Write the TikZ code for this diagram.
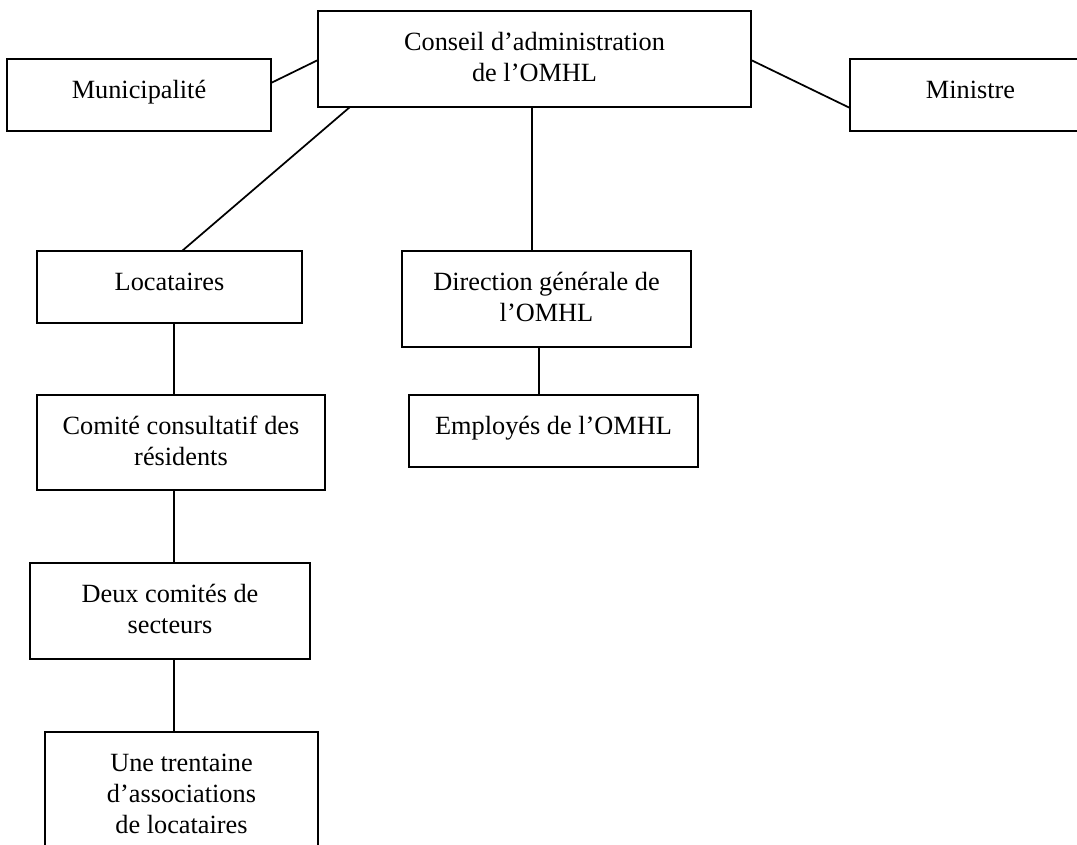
\documentclass[tikz,border=0pt]{standalone}
\usepackage{fontspec}
\setmainfont{Liberation Serif}
\usetikzlibrary{calc}
\newdimen\pxu
\pxu=0.46pt
\newcommand{\boxtext}[3]{\parbox[c][#2\pxu][t]{#1\pxu}{\centering\rule{0pt}{40\pxu}#3}}
\tikzset{
  orgbox/.style={draw, line width=0.8pt, inner sep=0pt, outer sep=0pt, anchor=north west,
    font=\fontsize{12.1}{14.26}\selectfont},
  link/.style={line width=0.8pt}
}
\begin{document}
\begin{tikzpicture}[x=0.46pt, y=-0.46pt]
\useasboundingbox (0,0) rectangle (1077,845);
\node[orgbox] (mun) at (7,59) {\boxtext{264}{72}{Municipalité}};
\node[orgbox] (con) at (318,11) {\boxtext{433}{96}{Conseil d’administration\\de l’OMHL}};
\node[orgbox] (min) at (850,59) {\boxtext{241}{72}{Ministre}};
\node[orgbox] (loc) at (37,251) {\boxtext{265}{72}{Locataires}};
\node[orgbox] (dir) at (402,251) {\boxtext{289}{96}{Direction générale de\\l’OMHL}};
\node[orgbox] (emp) at (409,395) {\boxtext{289}{72}{Employés de l’OMHL}};
\node[orgbox] (com) at (37,395) {\boxtext{288}{95}{Comité consultatif des\\résidents}};
\node[orgbox] (deu) at (30,563) {\boxtext{280}{96}{Deux comités de\\secteurs}};
\node[orgbox] (une) at (45,732) {\boxtext{273}{130}{Une trentaine\\d’associations\\de locataires}};
\coordinate (cx) at (174,0);
\coordinate (dx) at (532,0);
\coordinate (ex) at (539,0);
\draw[link] ([yshift=12\pxu]mun.east) -- ([yshift=-1\pxu]con.west);
\draw[link] ([yshift=-1\pxu]con.east) -- ([yshift=-13\pxu]min.west);
\draw[link] ([xshift=-184.5\pxu]con.south) -- ([xshift=12.5\pxu]loc.north);
\draw[link] (con.south -| dx) -- (dir.north -| dx);
\draw[link] (dir.south -| ex) -- (emp.north -| ex);
\draw[link] (loc.south -| cx) -- (com.north -| cx);
\draw[link] (com.south -| cx) -- (deu.north -| cx);
\draw[link] (deu.south -| cx) -- (une.north -| cx);
\end{tikzpicture}
\end{document}
